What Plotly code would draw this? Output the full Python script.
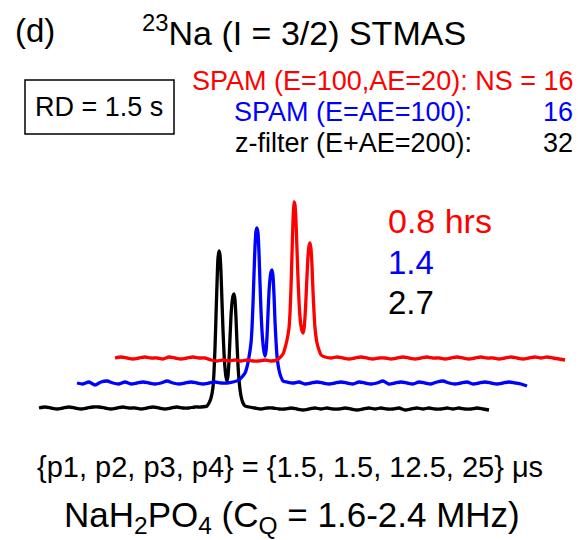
import plotly.graph_objects as go

# ---- spectral sampling grid (points, relative to spectrum start) ----
shift_left = list(range(0, 169, 6))
shift_peak = [170, 172, 174, 175, 176, 177, 178, 179, 180, 181, 182, 183, 184, 185, 186,
              187, 188, 189, 190, 191, 192, 193, 194, 195, 196, 197, 198, 199, 200, 202, 204, 206]
shift_right = list(range(210, 451, 6))
shift = shift_left + shift_peak + shift_right

# ---- intensities (a.u.) ----
black_left = [0, 1, 0, -1, 0, 1, 0, -1, 0, 1, 1, 0, -1, 0, 1, 0, 0, -1, 0, 1, 0, -1, 0, 1, 0, 0, 1, 1, 2]
black_peak = [5, 10, 21, 36, 60, 92, 124, 150, 157, 153, 135, 106, 78, 55, 40, 31, 27, 32, 47, 70,
              92, 105, 112, 114, 108, 90, 65, 43, 28, 12, 5, 2]
black_right = [1, 0, -1, 0, 0, -1, -1, 0, -1, -2, -1, 0, -1, 0, -1, -1, 0, -1, -2, -1, 0, -1, 0, -1,
               -1, 0, -2, -1, 0, -1, 0, -1, -1, 0, -1, 0, -1, -1, 0, -1, -2]

blue_left = [0, -1, 1, -2, 1, 2, 0, -1, 1, -1, 0, 1, 0, -1, 0, 2, 0, -1, 0, 1, 0, -1, 0, 1, 0, 0, 1, 3, 10]
blue_peak = [16, 26, 40, 55, 79, 109, 136, 152, 155, 150, 130, 100, 72, 52, 39, 31, 27, 32, 46, 69,
             91, 104, 111, 113, 107, 88, 62, 42, 27, 13, 6, 2]
blue_right = [1, 0, 1, -1, 0, 1, 0, -1, 0, 1, 0, -1, 1, 0, -1, 0, 2, -1, 0, 1, 0, -1, 1, 0, -1, 1,
              2, 0, -1, 0, 1, -1, 0, 1, 0, -1, 0, 1, 0, -1, -3]

red_left = [0, 1, 0, -1, 0, 1, 0, 0, -1, 1, 0, -1, 0, 1, 0, 0, -2, -3, -2, -3, -2, -3, -2, -3, -3, -2,
            -3, -2, 4]
red_peak = [10, 18, 30, 45, 70, 104, 137, 156, 153, 136, 108, 80, 57, 41, 32, 27, 25, 29, 41, 60,
            82, 102, 112, 115, 109, 92, 67, 46, 30, 15, 8, 3]
red_right = [1, 0, 1, 0, -1, 0, 1, 0, -1, 0, 0, -1, 0, 1, 0, -1, 0, 1, 0, 0, -1, 0, 1, 0, -1, 0, 1,
             0, 0, -1, 0, 1, 0, -1, 0, 1, 0, 1, 0, -1, -2]

series_names = ["z-filter", "SPAM (E=AE=100)", "SPAM (E=100,AE=20)"]
series_values = [black_left + black_peak + black_right,
                 blue_left + blue_peak + blue_right,
                 red_left + red_peak + red_right]
series_colors = ["#000000", "#0000ff", "#ff0000"]
times = ["2.7", "1.4", "0.8 hrs"]

# stacked-plot offsets (display only)
x_step = 38
y_step = 25

W, H = 578, 540
fig = go.Figure()
for i, (name, vals, col) in enumerate(zip(series_names, series_values, series_colors)):
    fig.add_trace(go.Scatter(
        x=[s + i * x_step for s in shift],
        y=[v + i * y_step for v in vals],
        mode="lines", name=name,
        line=dict(color=col, width=3.3, shape="spline", smoothing=0.6),
        hoverinfo="skip", showlegend=False))

FONT = "Liberation Sans, Arial, sans-serif"

def px(x, y):
    return x / W, 1 - y / H

ann = []
def add_text(text, x, y, size, color="#000000", xanchor="left", yanchor="middle"):
    xx, yy = px(x, y)
    ann.append(dict(text=text, x=xx, y=yy, xref="paper", yref="paper", showarrow=False,
                    xanchor=xanchor, yanchor=yanchor,
                    font=dict(family=FONT, size=size, color=color)))

add_text("(d)", 13, 31, 33)
add_text("<sup>23</sup>Na (I = 3/2) STMAS", 140, 31, 34)
add_text("SPAM (E=100,AE=20): NS = 16", 575, 81, 27, "#ff0000", xanchor="right")
add_text("SPAM (E=AE=100):", 474, 112, 27, "#0000ff", xanchor="right")
add_text("16", 575, 112, 27, "#0000ff", xanchor="right")
add_text("z-filter (E+AE=200):", 474, 143, 27, "#000000", xanchor="right")
add_text("32", 575, 143, 27, "#000000", xanchor="right")
add_text("RD = 1.5 s", 99, 107, 27, xanchor="center")
add_text(times[2], 386, 221, 34, "#ff0000")
add_text(times[1], 386, 262, 33, "#0000ff")
add_text(times[0], 386, 302, 33, "#000000")
add_text("{p1, p2, p3, p4} = {1.5, 1.5, 12.5, 25} μs", 290, 467, 29, xanchor="center")
add_text("NaH<sub>2</sub>PO<sub>4</sub> (C<sub>Q</sub> = 1.6-2.4 MHz)", 292, 517, 35, xanchor="center")

x0, y0 = px(25, 80)
x1, y1 = px(174, 134)
shapes = [dict(type="rect", xref="paper", yref="paper", x0=x0, y0=y1, x1=x1, y1=y0,
               line=dict(color="#000000", width=1.5))]

fig.update_layout(
    width=W, height=H, autosize=False,
    margin=dict(l=0, r=0, t=0, b=0, pad=0),
    paper_bgcolor="white", plot_bgcolor="white",
    xaxis=dict(range=[-39, W - 39], visible=False, fixedrange=True),
    yaxis=dict(range=[408 - H, 408], visible=False, fixedrange=True),
    annotations=ann, shapes=shapes,
)
fig.write_html("out.html")
